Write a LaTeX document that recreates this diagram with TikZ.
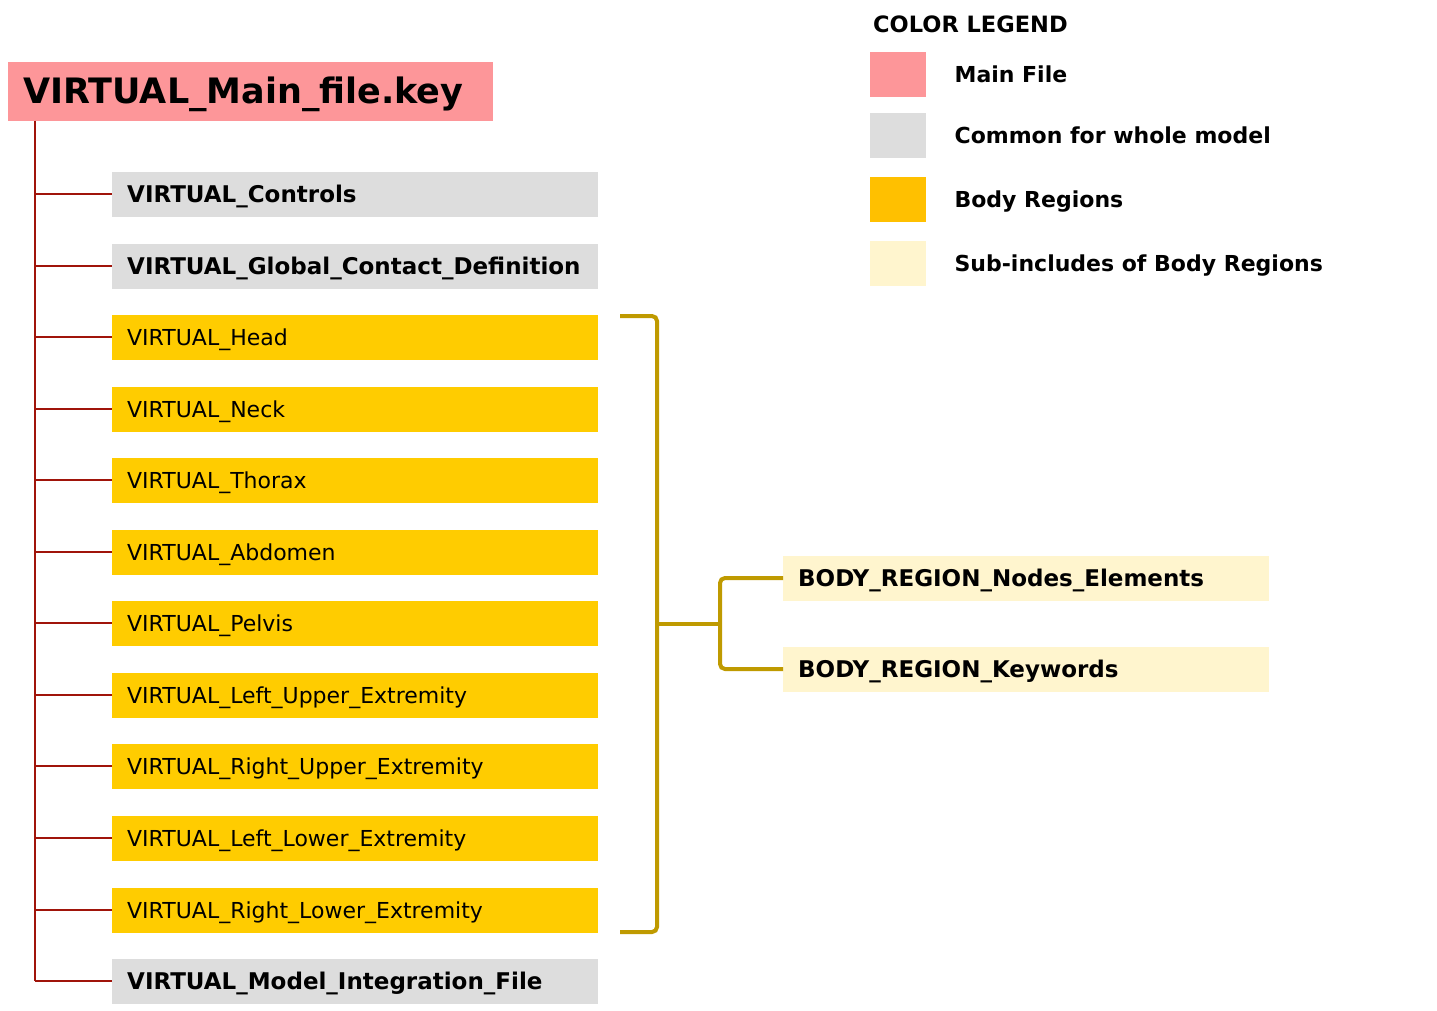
\documentclass[tikz,border=0pt]{standalone}
\usepackage{fontspec}
\setmainfont{DejaVu Sans}
\usetikzlibrary{positioning}
\definecolor{mainpink}{RGB}{253,150,153}
\definecolor{commongray}{RGB}{221,221,221}
\definecolor{regionyellow}{RGB}{255,204,0}
\definecolor{legendyellow}{RGB}{255,192,0}
\definecolor{subyellow}{RGB}{255,245,206}
\definecolor{treered}{RGB}{160,20,10}
\definecolor{bracegold}{RGB}{191,154,0}
\newcommand{\itemfont}{\fontsize{22}{26}\selectfont}
\newcommand{\boldfont}{\fontsize{23}{27}\selectfont\bfseries}

\begin{document}
\begin{tikzpicture}[x=1pt,y=-1pt]
\tikzstyle{every node}=[font=\itemfont, inner sep=0pt, text height=16.5pt, text depth=0pt]
\tikzstyle{filebox}=[anchor=west, minimum height=45pt, text width=456pt, inner xsep=15pt, align=left]
\tikzstyle{common}=[filebox, fill=commongray, font=\boldfont]
\tikzstyle{region}=[filebox, fill=regionyellow]
\tikzstyle{subinc}=[filebox, fill=subyellow, font=\boldfont]
\tikzstyle{swatch}=[anchor=north west, minimum width=56pt, minimum height=45pt]
\tikzstyle{legendtext}=[right=28pt of #1, font=\itemfont\bfseries]
\tikzstyle{tree}=[draw=treered, line width=2pt]
\tikzstyle{brace}=[draw=bracegold, line width=4pt, rounded corners=5pt]
\useasboundingbox (0,0) rectangle (1437,1010);

\node[anchor=west, fill=mainpink, minimum height=59pt, text width=455pt, inner xsep=15pt, align=left, text height=25.5pt, font=\fontsize{35}{40}\selectfont\bfseries] (main) at (8,91) {VIRTUAL\_Main\_file.key};

\foreach \nm/\st/\txt [count=\i from 0] in {
  ctrl/common/VIRTUAL\_Controls,
  contact/common/VIRTUAL\_Global\_Contact\_Definition,
  head/region/VIRTUAL\_Head,
  neck/region/VIRTUAL\_Neck,
  thorax/region/VIRTUAL\_Thorax,
  abdomen/region/VIRTUAL\_Abdomen,
  pelvis/region/VIRTUAL\_Pelvis,
  lue/region/VIRTUAL\_Left\_Upper\_Extremity,
  rue/region/VIRTUAL\_Right\_Upper\_Extremity,
  lle/region/VIRTUAL\_Left\_Lower\_Extremity,
  rle/region/VIRTUAL\_Right\_Lower\_Extremity,
  mif/common/VIRTUAL\_Model\_Integration\_File}
  \node[\st] (\nm) at (112,{round(194+71.55*\i)}) {\txt};

\coordinate (trunk) at (35,0);
\draw[tree] (trunk |- main.south) -- (trunk |- mif.west);
\foreach \nm in {ctrl,contact,head,neck,thorax,abdomen,pelvis,lue,rue,lle,rle,mif}
  \draw[tree] (trunk |- \nm.west) -- (\nm.west);

\node[subinc] (nodes) at (783,578) {BODY\_REGION\_Nodes\_Elements};
\node[subinc] (kw) at (783,669) {BODY\_REGION\_Keywords};

\coordinate (brtop) at (620,316);
\coordinate (brbot) at (620,932);
\coordinate (brmid) at (657,624);
\coordinate (fork) at (720,624);
\draw[brace] (brtop) -- (brtop -| brmid) -- (brbot -| brmid) -- (brbot);
\draw[brace] (brmid) -- (fork);
\draw[brace] (nodes.west) -- (nodes.west -| fork) -- (kw.west -| fork) -- (kw.west);

\node[anchor=west, font=\fontsize{22.5}{27}\selectfont\bfseries] (legtitle) at (873,24) {COLOR LEGEND};
\foreach \nm/\col/\y/\txt in {
  lgmain/mainpink/52/Main File,
  lgcommon/commongray/113/Common for whole model,
  lgregion/legendyellow/177/Body Regions,
  lgsub/subyellow/241/Sub-includes of Body Regions}{
  \node[swatch, fill=\col] (\nm) at (870,\y) {};
  \node[legendtext=\nm] (\nm txt) {\txt};
}
\end{tikzpicture}
\end{document}
